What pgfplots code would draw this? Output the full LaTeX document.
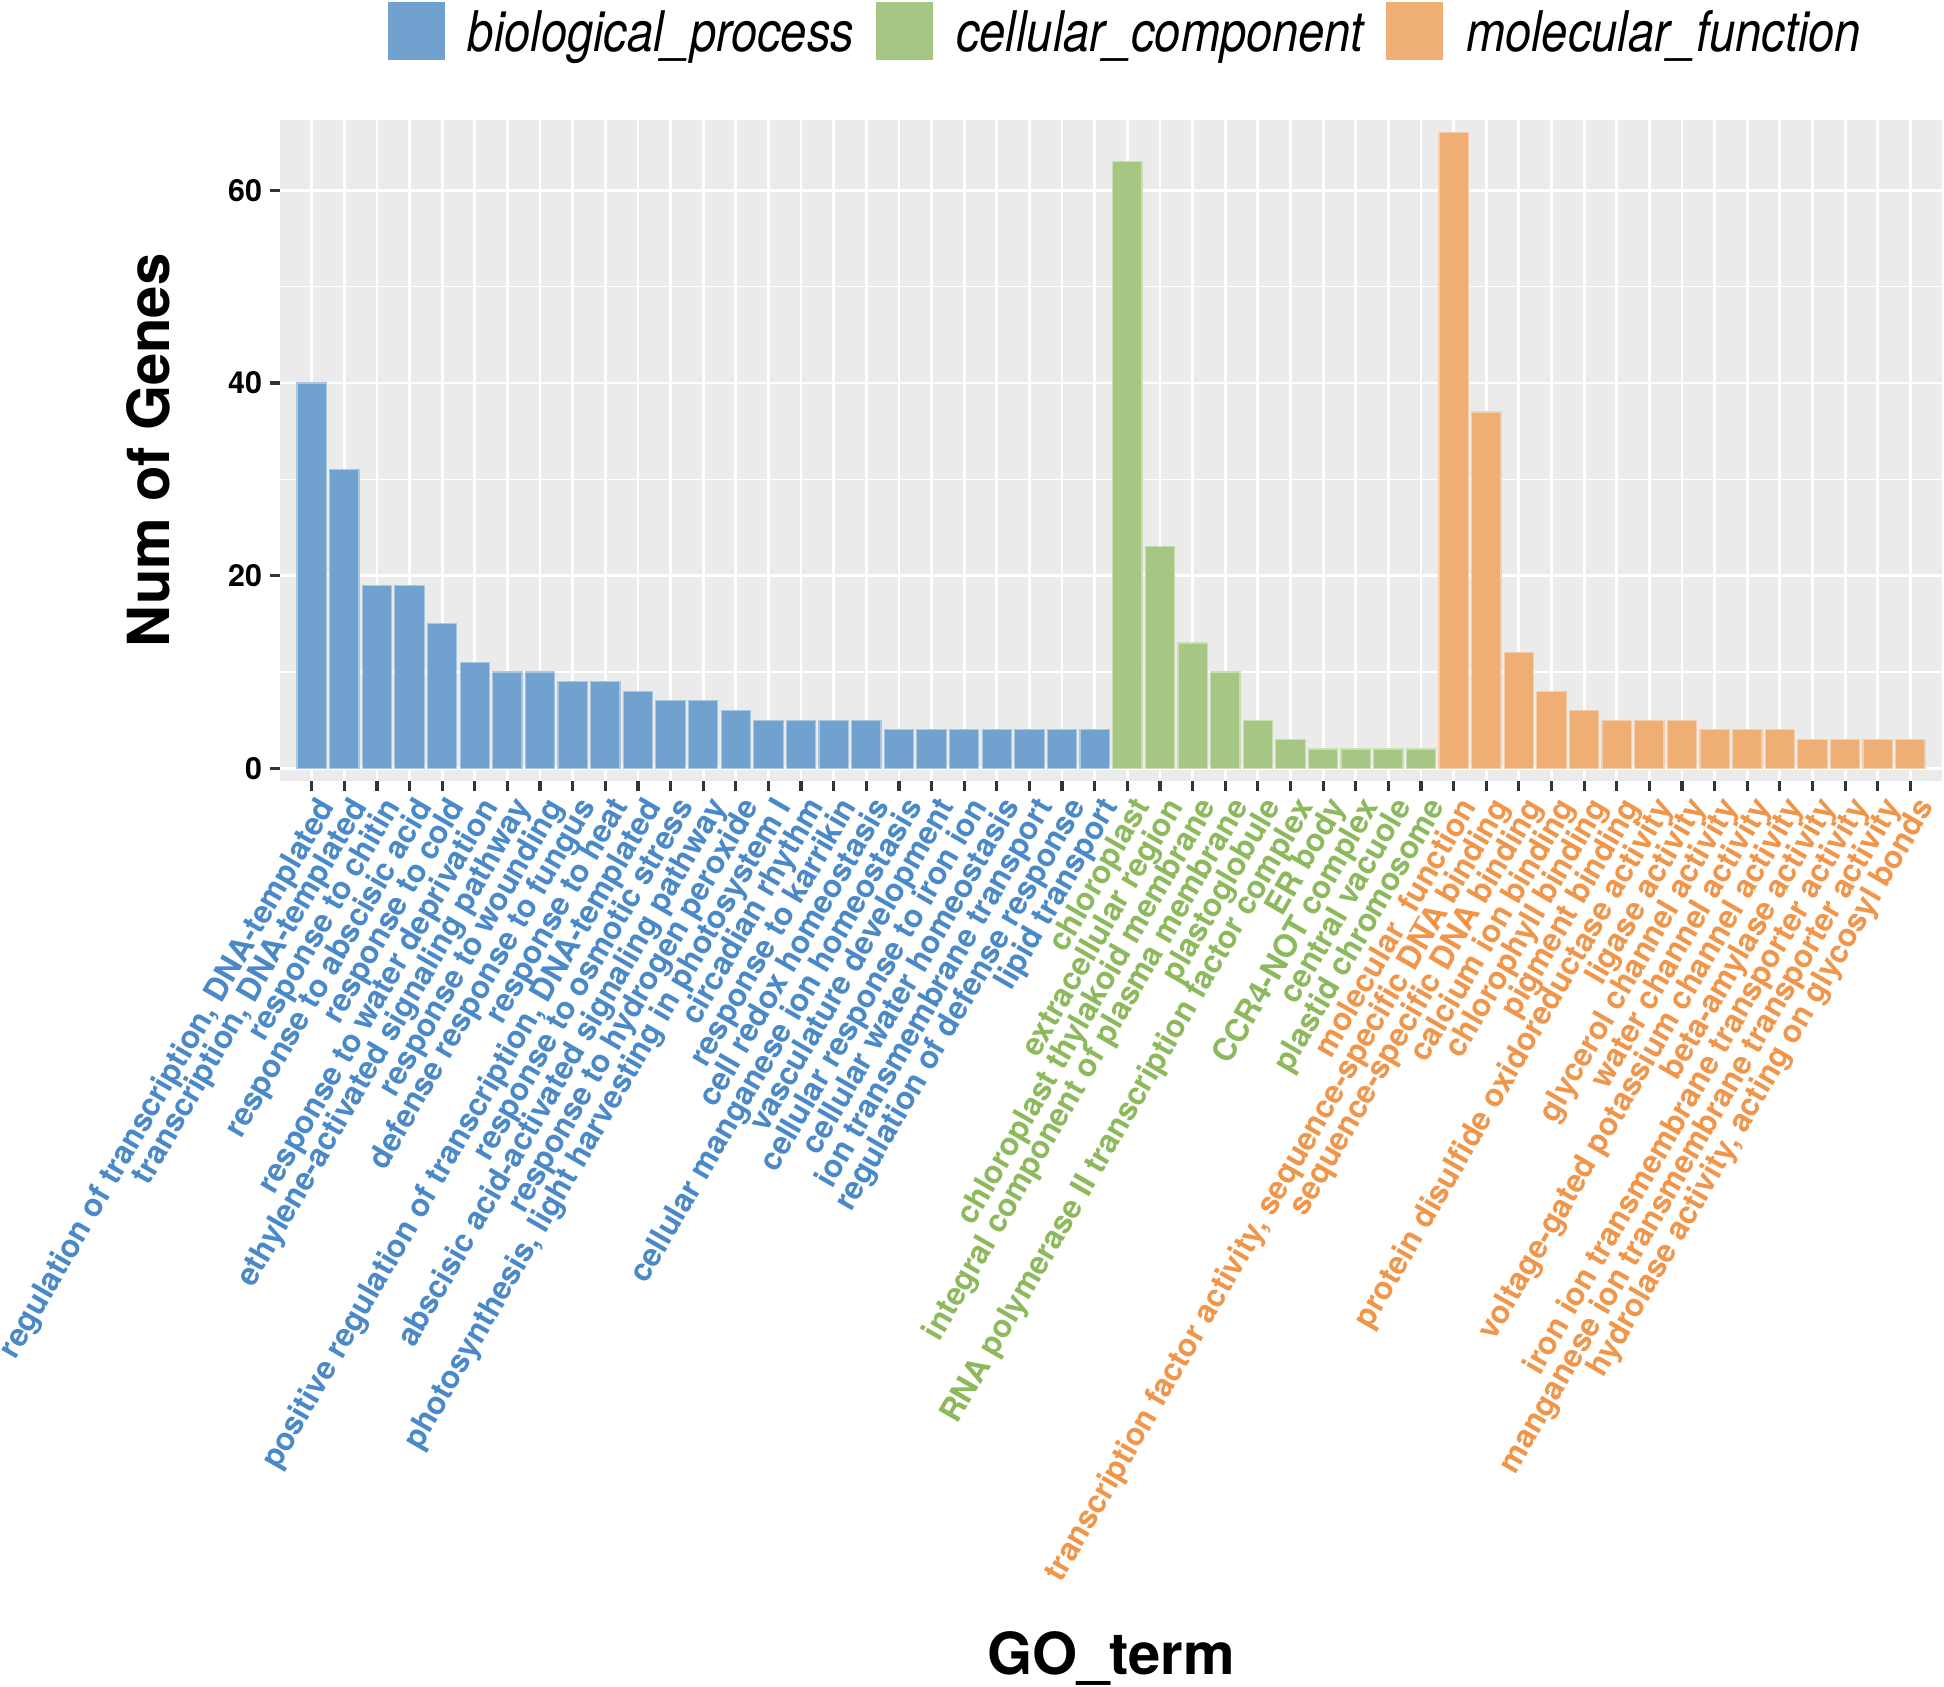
\documentclass[border=0pt]{standalone}
\usepackage{pgfplots}
\pgfplotsset{compat=1.18}
\usepackage{fontspec}
\setmainfont{TeX Gyre Heros}
\usepackage{graphicx}
\definecolor{panelbg}{RGB}{235,235,235}
\definecolor{bpbar}{RGB}{113,162,207}
\definecolor{ccbar}{RGB}{166,198,132}
\definecolor{mfbar}{RGB}{239,174,116}
\definecolor{bptxt}{RGB}{74,137,200}
\definecolor{cctxt}{RGB}{141,185,93}
\definecolor{mftxt}{RGB}{240,150,74}
\newcommand{\bp}[1]{\textcolor{bptxt}{#1}}
\newcommand{\cc}[1]{\textcolor{cctxt}{#1}}
\newcommand{\mf}[1]{\textcolor{mftxt}{#1}}
\begin{document}
\begin{tikzpicture}
\begin{axis}[
  at={(0,0)}, anchor=south west,
  scale only axis, width=415.5pt, height=165.25pt,
  xmin=-0.97, xmax=49.97, ymin=-1.32, ymax=67.32,
  axis background/.style={fill=panelbg},
  axis line style={draw=none},
  xtick={0,...,49}, ytick={0,20,40,60}, minor ytick={10,30,50},
  xmajorgrids, ymajorgrids, yminorgrids,
  major grid style={white, line width=0.7pt},
  minor grid style={white, line width=0.35pt},
  tick align=outside, major tick length=2.4pt, minor tick length=0pt,
  tick style={black!80, line width=0.8pt},
  tick pos=left,
  /pgf/number format/assume math mode=true,
  yticklabel style={font=\bfseries\fontsize{7.6}{9}\selectfont, inner sep=0pt, xshift=-1.9pt},
  xticklabel style={font=\bfseries\fontsize{7.9}{9}\selectfont, xshift=0.8pt, yshift=-0.8pt, rotate=60, anchor=north east, inner sep=0pt},
  every axis y label/.style={at={(axis description cs:-0.0795,0.5)}, rotate=90, anchor=center, font=\bfseries\fontsize{14.5}{17}\selectfont},
  every axis x label/.style={at={(axis description cs:0.5,-1.3268)}, anchor=center, font=\bfseries\fontsize{14.5}{17}\selectfont},
  ylabel={Num of Genes}, xlabel={GO\_term},
  legend columns=3,
  legend style={at={(axis description cs:0.508,1.135)}, anchor=center, draw=none, fill=none, inner sep=0pt,
    nodes={inner sep=0pt, font=\itshape\fontsize{14}{16}\selectfont},
    /tikz/every odd column/.style={column sep=5.75pt},
    /tikz/every even column/.style={column sep=5.5pt}},
  xticklabels={
    \bp{regulation of transcription, DNA-templated},
    \bp{transcription, DNA-templated},
    \bp{response to chitin},
    \bp{response to abscisic acid},
    \bp{response to cold},
    \bp{response to water deprivation},
    \bp{ethylene-activated signaling pathway},
    \bp{response to wounding},
    \bp{defense response to fungus},
    \bp{response to heat},
    \bp{positive regulation of transcription, DNA-templated},
    \bp{response to osmotic stress},
    \bp{abscisic acid-activated signaling pathway},
    \bp{response to hydrogen peroxide},
    \bp{photosynthesis, light harvesting in photosystem I},
    \bp{circadian rhythm},
    \bp{response to karrikin},
    \bp{cell redox homeostasis},
    \bp{cellular manganese ion homeostasis},
    \bp{vasculature development},
    \bp{cellular response to iron ion},
    \bp{cellular water homeostasis},
    \bp{ion transmembrane transport},
    \bp{regulation of defense response},
    \bp{lipid transport},
    \cc{chloroplast},
    \cc{extracellular region},
    \cc{chloroplast thylakoid membrane},
    \cc{integral component of plasma membrane},
    \cc{plastoglobule},
    \cc{RNA polymerase II transcription factor complex},
    \cc{ER body},
    \cc{CCR4-NOT complex},
    \cc{central vacuole},
    \cc{plastid chromosome},
    \mf{molecular\_function},
    \mf{transcription factor activity, sequence-specific DNA binding},
    \mf{sequence-specific DNA binding},
    \mf{calcium ion binding},
    \mf{chlorophyll binding},
    \mf{pigment binding},
    \mf{protein disulfide oxidoreductase activity},
    \mf{ligase activity},
    \mf{glycerol channel activity},
    \mf{water channel activity},
    \mf{voltage-gated potassium channel activity},
    \mf{beta-amylase activity},
    \mf{iron ion transmembrane transporter activity},
    \mf{manganese ion transmembrane transporter activity},
    \mf{hydrolase activity, acting on glycosyl bonds}
  },
]
\addplot[ybar, bar width=0.9, bar shift=0pt, fill=bpbar, draw=bpbar!60!white, line width=0.3pt,
  legend image code/.code={\fill[bpbar] (0pt,-6.35pt) rectangle (14pt,7.85pt);}]
  coordinates {(0,40) (1,31) (2,19) (3,19) (4,15) (5,11) (6,10) (7,10) (8,9) (9,9)
  (10,8) (11,7) (12,7) (13,6) (14,5) (15,5) (16,5) (17,5) (18,4) (19,4)
  (20,4) (21,4) (22,4) (23,4) (24,4)};
\addlegendentry{\scalebox{0.84}[1]{biological\_process}}
\addplot[ybar, bar width=0.9, bar shift=0pt, fill=ccbar, draw=ccbar!60!white, line width=0.3pt,
  legend image code/.code={\fill[ccbar] (0pt,-6.35pt) rectangle (14pt,7.85pt);}]
  coordinates {(25,63) (26,23) (27,13) (28,10) (29,5) (30,3) (31,2) (32,2) (33,2) (34,2)};
\addlegendentry{\scalebox{0.84}[1]{cellular\_component}}
\addplot[ybar, bar width=0.9, bar shift=0pt, fill=mfbar, draw=mfbar!60!white, line width=0.3pt,
  legend image code/.code={\fill[mfbar] (0pt,-6.35pt) rectangle (14pt,7.85pt);}]
  coordinates {(35,66) (36,37) (37,12) (38,8) (39,6) (40,5) (41,5) (42,5) (43,4) (44,4)
  (45,4) (46,3) (47,3) (48,3) (49,3)};
\addlegendentry{\scalebox{0.84}[1]{molecular\_function}}
\end{axis}
\pgfresetboundingbox
\path[use as bounding box] (-70pt,-226.5pt) rectangle (416pt,195.25pt);
\end{tikzpicture}
\end{document}
